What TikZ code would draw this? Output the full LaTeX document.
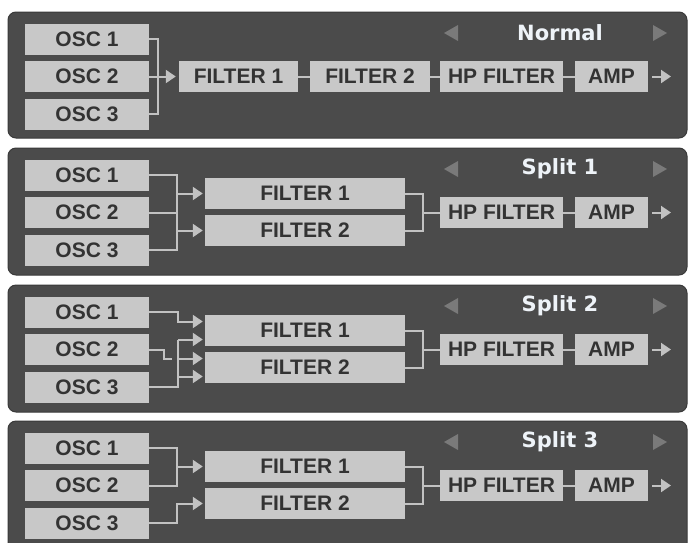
\documentclass[tikz,border=0pt]{standalone}
\usepackage{fontspec}
\setmainfont{Liberation Sans}
\newfontfamily\titlefont{DejaVu Sans}
\usetikzlibrary{arrows.meta}
\definecolor{panelbg}{HTML}{4B4B4B}
\definecolor{panelrim}{HTML}{3A3A3A}
\definecolor{boxfill}{HTML}{C8C8C8}
\definecolor{wirecol}{HTML}{C2C2C2}
\definecolor{txt}{HTML}{333333}
\definecolor{titlecol}{HTML}{EEF3F8}
\definecolor{tricol}{HTML}{7A7A7A}
\tikzset{
  panel/.style={fill=panelbg, draw=panelrim, line width=1pt, rounded corners=8pt},
  modbox/.style={fill=boxfill, inner sep=0pt, minimum height=31pt, text=txt,
    font=\bfseries\fontsize{21}{21}\selectfont},
  wire/.style={draw=wirecol, line width=2pt},
  arr/.style={wire, -{Triangle[length=10pt,width=13pt]}},
  ptitle/.style={text=titlecol, inner sep=0pt, font=\titlefont\bfseries\fontsize{21}{21}\selectfont},
  tri/.style={fill=tricol},
}
\begin{document}
\begin{tikzpicture}[x=1pt,y=-1pt]
\clip (0,0) rectangle (688,542);
\fill[white] (0,0) rectangle (688,542);

% ---------------- Panel 1: Normal ----------------
\begin{scope}[shift={(0,12)}]
  \draw[panel] (8,0) rectangle (687,126);
  \node[ptitle] (atitle) at (560,21) {Normal};
  \fill[tri] (444,21) -- (458,13) -- (458,29) -- cycle;
  \fill[tri] (667,21) -- (653,13) -- (653,29) -- cycle;
  \node[modbox, minimum width=124pt] (aosc1) at (87,27) {OSC 1};
  \node[modbox, minimum width=124pt] (aosc2) at (87,64.5) {OSC 2};
  \node[modbox, minimum width=124pt] (aosc3) at (87,102) {OSC 3};
  \node[modbox, minimum width=119pt] (af1) at (238.5,64.5) {FILTER 1};
  \node[modbox, minimum width=120pt] (af2) at (370,64.5) {FILTER 2};
  \node[modbox, minimum width=123pt] (ahp) at (501.5,64.5) {HP FILTER};
  \node[modbox, minimum width=73pt] (aamp) at (611.5,64.5) {AMP};
  \coordinate (abus) at (158,0);
  \coordinate (aout) at (671,64.5);
  \draw[wire] (aosc1.east) -- (aosc1.east -| abus) -- (aosc3.east -| abus) -- (aosc3.east);
  \draw[arr] (aosc2.east) -- ([xshift=-3pt]af1.west);
  \draw[wire] (af1.east) -- (af2.west);
  \draw[wire] (af2.east) -- (ahp.west);
  \draw[wire] (ahp.east) -- (aamp.west);
  \draw[arr] ([xshift=4pt]aamp.east) -- (aout);
\end{scope}

% ---------------- Panel 2: Split 1 ----------------
\begin{scope}[shift={(0,148)}]
  \draw[panel] (8,0) rectangle (687,127);
  \node[ptitle] (btitle) at (560,21) {Split 1};
  \fill[tri] (444,21) -- (458,13) -- (458,29) -- cycle;
  \fill[tri] (667,21) -- (653,13) -- (653,29) -- cycle;
  \node[modbox, minimum width=124pt] (bosc1) at (87,27) {OSC 1};
  \node[modbox, minimum width=124pt] (bosc2) at (87,64.5) {OSC 2};
  \node[modbox, minimum width=124pt] (bosc3) at (87,102) {OSC 3};
  \node[modbox, minimum width=200pt] (bf1) at (305,45.5) {FILTER 1};
  \node[modbox, minimum width=200pt] (bf2) at (305,82.5) {FILTER 2};
  \node[modbox, minimum width=123pt] (bhp) at (501.5,64.5) {HP FILTER};
  \node[modbox, minimum width=73pt] (bamp) at (611.5,64.5) {AMP};
  \coordinate (bbus) at (177,0);
  \coordinate (bmrg) at (423,0);
  \coordinate (bout) at (671,64.5);
  \draw[wire] (bosc1.east) -- (bosc1.east -| bbus) -- (bosc3.east -| bbus) -- (bosc3.east);
  \draw[wire] (bosc2.east) -- (bosc2.east -| bbus);
  \draw[arr] (bf1.west -| bbus) -- ([xshift=-2pt]bf1.west);
  \draw[arr] (bf2.west -| bbus) -- ([xshift=-2pt]bf2.west);
  \draw[wire] (bf1.east) -- (bf1.east -| bmrg) -- (bf2.east -| bmrg) -- (bf2.east);
  \draw[wire] (bhp.west -| bmrg) -- (bhp.west);
  \draw[wire] (bhp.east) -- (bamp.west);
  \draw[arr] ([xshift=4pt]bamp.east) -- (bout);
\end{scope}

% ---------------- Panel 3: Split 2 ----------------
\begin{scope}[shift={(0,285)}]
  \draw[panel] (8,0) rectangle (687,127);
  \node[ptitle] (ctitle) at (560,21) {Split 2};
  \fill[tri] (444,21) -- (458,13) -- (458,29) -- cycle;
  \fill[tri] (667,21) -- (653,13) -- (653,29) -- cycle;
  \node[modbox, minimum width=124pt] (cosc1) at (87,27) {OSC 1};
  \node[modbox, minimum width=124pt] (cosc2) at (87,64.5) {OSC 2};
  \node[modbox, minimum width=124pt] (cosc3) at (87,102) {OSC 3};
  \node[modbox, minimum width=200pt] (cf1) at (305,45.5) {FILTER 1};
  \node[modbox, minimum width=200pt] (cf2) at (305,82.5) {FILTER 2};
  \node[modbox, minimum width=123pt] (chp) at (501.5,64.5) {HP FILTER};
  \node[modbox, minimum width=73pt] (camp) at (611.5,64.5) {AMP};
  \coordinate (cbus) at (178,0);
  \coordinate (cmrg) at (423,0);
  \coordinate (cout) at (671,64.5);
  \coordinate (cin1) at ([xshift=-2pt,yshift=9pt]cf1.west);
  \coordinate (cin2) at ([xshift=-2pt,yshift=-9pt]cf1.west);
  \coordinate (cin3) at ([xshift=-2pt,yshift=9pt]cf2.west);
  \coordinate (cin4) at ([xshift=-2pt,yshift=-9pt]cf2.west);
  \draw[arr] (cosc1.east) -- (cosc1.east -| cbus) |- (cin1);
  \draw[wire] (cosc3.east) -- (cosc3.east -| cbus) -- (cin2 -| cbus);
  \draw[arr] (cin2 -| cbus) -- (cin2);
  \draw[arr] (cin3 -| cbus) -- (cin3);
  \draw[arr] (cin4 -| cbus) -- (cin4);
  \draw[wire] (cosc2.east) -- ++(15,0) -- ++(0,9) -- ++(8,0);
  \draw[wire] (cf1.east) -- (cf1.east -| cmrg) -- (cf2.east -| cmrg) -- (cf2.east);
  \draw[wire] (chp.west -| cmrg) -- (chp.west);
  \draw[wire] (chp.east) -- (camp.west);
  \draw[arr] ([xshift=4pt]camp.east) -- (cout);
\end{scope}

% ---------------- Panel 4: Split 3 ----------------
\begin{scope}[shift={(0,421)}]
  \draw[panel] (8,0) rectangle (687,130);
  \node[ptitle] (dtitle) at (560,21) {Split 3};
  \fill[tri] (444,21) -- (458,13) -- (458,29) -- cycle;
  \fill[tri] (667,21) -- (653,13) -- (653,29) -- cycle;
  \node[modbox, minimum width=124pt] (dosc1) at (87,27) {OSC 1};
  \node[modbox, minimum width=124pt] (dosc2) at (87,64.5) {OSC 2};
  \node[modbox, minimum width=124pt] (dosc3) at (87,102) {OSC 3};
  \node[modbox, minimum width=200pt] (df1) at (305,45.5) {FILTER 1};
  \node[modbox, minimum width=200pt] (df2) at (305,82.5) {FILTER 2};
  \node[modbox, minimum width=123pt] (dhp) at (501.5,64.5) {HP FILTER};
  \node[modbox, minimum width=73pt] (damp) at (611.5,64.5) {AMP};
  \coordinate (dbus) at (177,0);
  \coordinate (dmrg) at (423,0);
  \coordinate (dout) at (671,64.5);
  \draw[wire] (dosc1.east) -- (dosc1.east -| dbus) -- (dosc2.east -| dbus) -- (dosc2.east);
  \draw[arr] (df1.west -| dbus) -- ([xshift=-2pt]df1.west);
  \draw[arr] (dosc3.east) -- (dosc3.east -| dbus) |- ([xshift=-2pt]df2.west);
  \draw[wire] (df1.east) -- (df1.east -| dmrg) -- (df2.east -| dmrg) -- (df2.east);
  \draw[wire] (dhp.west -| dmrg) -- (dhp.west);
  \draw[wire] (dhp.east) -- (damp.west);
  \draw[arr] ([xshift=4pt]damp.east) -- (dout);
\end{scope}
\end{tikzpicture}
\end{document}
